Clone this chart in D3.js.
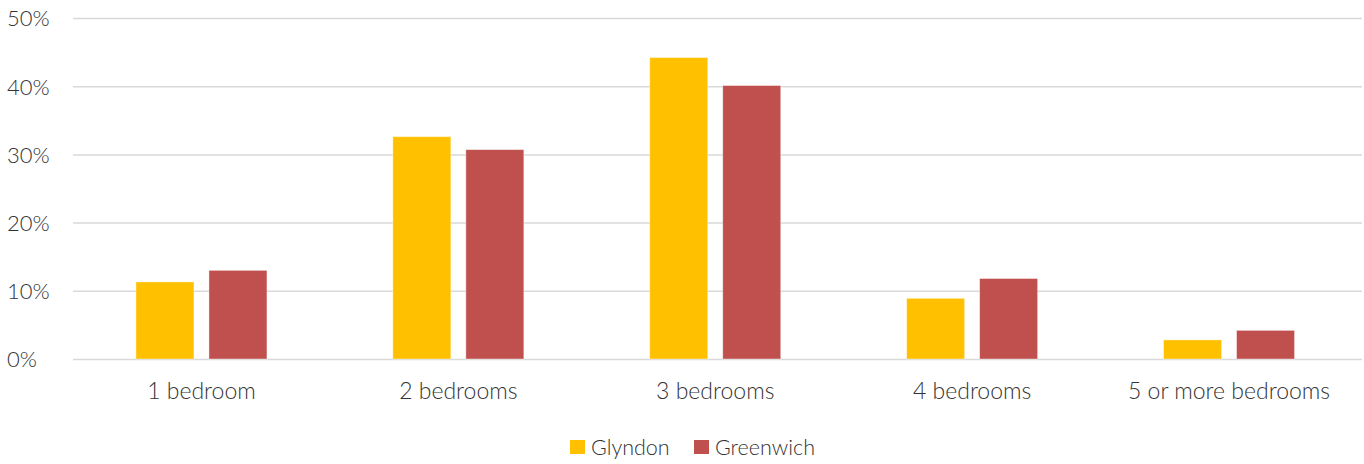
<!DOCTYPE html>
<html><head><meta charset="utf-8">
<script src="https://cdn.jsdelivr.net/npm/d3@7"></script>
<style>body{margin:0;background:#fff}svg{display:block}text{font-family:Lato,"Open Sans",sans-serif;font-weight:300;fill:#333}</style>
</head><body><svg id="c" width="1364" height="464"></svg>
<script>
const categories = ["1 bedroom","2 bedrooms","3 bedrooms","4 bedrooms","5 or more bedrooms"];
const seriesNames = ["Glyndon","Greenwich"];
const glyndon = [11.3, 32.6, 44.2, 8.9, 2.8];
const greenwich = [13.0, 30.7, 40.1, 11.8, 4.2];
const colors = ["#FFC000","#C0504D"];
const yTicks = [0,10,20,30,40,50];

const svg = d3.select("#c");
const L = 73, R = 1357.5, GR = 1362, T = 18, B = 359;
const x0 = d3.scaleBand().domain(categories).range([L,R]).padding(0);
const x1 = d3.scaleBand().domain(seriesNames).range([0,131]).paddingInner(15/73).paddingOuter(0);
const y = d3.scaleLinear().domain([0,50]).range([B,T]);

const yAxis = svg.append("g").attr("transform",`translate(${L},0)`)
  .call(d3.axisLeft(y).tickValues(yTicks).tickFormat(d=>d+"%").tickSize(-(GR-L)));
yAxis.select(".domain").remove();
yAxis.selectAll("line").attr("stroke","#d9d9d9").attr("stroke-width",1.5);
yAxis.selectAll("text").attr("font-size",22).attr("text-anchor","start").attr("x",-L+7).attr("dy","0.36em");

const data = categories.map((c,i)=>({cat:c, vals:[glyndon[i],greenwich[i]]}));
const g = svg.append("g");
data.forEach(d=>{
  const off = x0(d.cat) + (x0.bandwidth()-131)/2;
  d.vals.forEach((v,j)=>{
    g.append("rect").attr("x",off+x1(seriesNames[j])).attr("width",x1.bandwidth())
      .attr("y",y(v)).attr("height",y(0)-y(v)).attr("fill",colors[j])
      .attr("stroke","rgba(255,255,255,0.5)").attr("stroke-width",0.8);
  });
});

const xAxis = svg.append("g").attr("transform",`translate(0,${B})`)
  .call(d3.axisBottom(x0).tickSize(0).tickPadding(24));
xAxis.select(".domain").remove();
xAxis.selectAll("text").attr("font-size",23);

const legend = svg.append("g");
const lx = [570, 694];
seriesNames.forEach((s,i)=>{
  legend.append("rect").attr("x",lx[i]).attr("y",440).attr("width",15).attr("height",14).attr("fill",colors[i]);
  legend.append("text").attr("x",lx[i]+21).attr("y",455).attr("font-size",21.5).text(s);
});
</script></body></html>
